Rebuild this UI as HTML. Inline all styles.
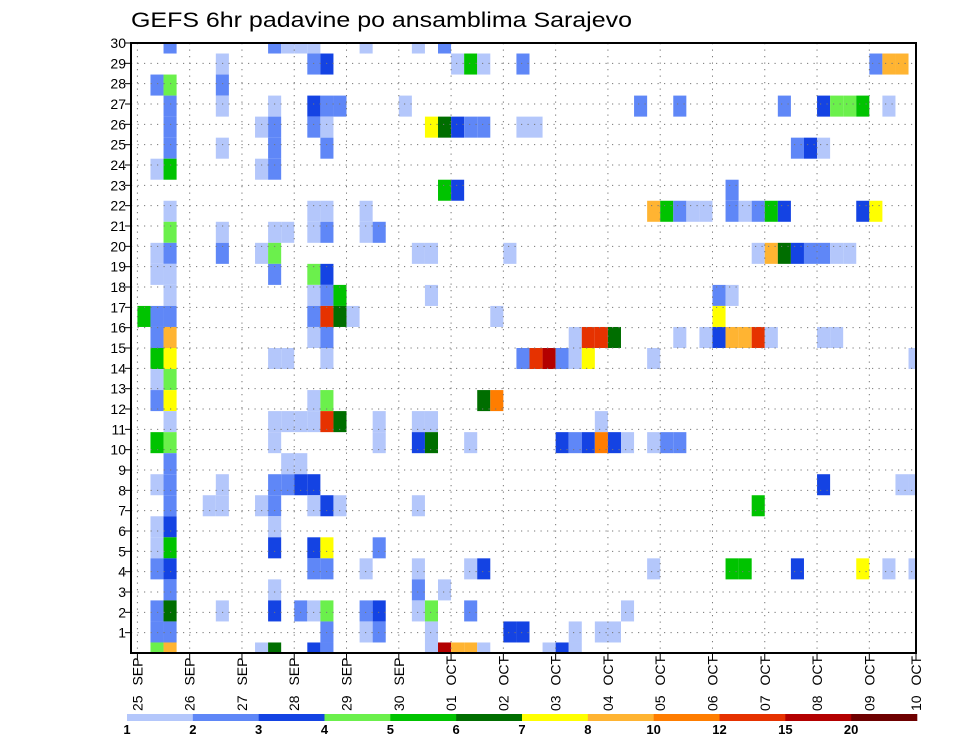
<!DOCTYPE html>
<html>
<head>
<meta charset="utf-8">
<style>
  html,body{margin:0;padding:0;background:#fff;}
  svg{display:block;}
  text{font-family:"Liberation Sans","DejaVu Sans",sans-serif;fill:#000;}
</style>
</head>
<body>
<svg id="chart" width="960" height="742" viewBox="0 0 960 742" xmlns="http://www.w3.org/2000/svg">
  <text x="131" y="27" font-size="21" textLength="501" lengthAdjust="spacingAndGlyphs">GEFS 6hr padavine po ansamblima Sarajevo</text>
  <g id="cells"></g>
  <g id="grid"></g>
  <rect x="131" y="43" width="785" height="610" fill="none" stroke="#000" stroke-width="2"/>
  <g id="yaxis"></g>
  <g id="xaxis"></g>
  <g id="colorbar"></g>
</svg>
<script>
// ---- data ----
const dayLabels = ["25 SEP","26 SEP","27 SEP","28 SEP","29 SEP","30 SEP","01 OCT","02 OCT","03 OCT","04 OCT","05 OCT","06 OCT","07 OCT","08 OCT","09 OCT","10 OCT"];
const memberLabels = [1,2,3,4,5,6,7,8,9,10,11,12,13,14,15,16,17,18,19,20,21,22,23,24,25,26,27,28,29,30];
const levelBreaks = [1,2,3,4,5,6,7,8,10,12,15,20];
const levelColors = ["#b4c7fb","#5f87f7","#1443e3","#6bf04c","#00c300","#006e00","#ffff00","#ffb432","#ff7d00","#e63200","#b30000","#6e0000"];
// cells: ensemble band, 6-hour step, precip (mm)
const cellMember = [
29,29,29,29,29,29,29,29,
28,28,28,28,28,28,28,28,28,28,
27,27,27,
26,26,26,26,26,26,26,26,26,26,26,26,26,26,26,
25,25,25,25,25,25,25,25,25,25,25,25,
24,24,24,24,24,24,24,
23,23,23,23,
22,22,22,
21,21,21,21,21,21,21,21,21,21,21,21,21,21,21,21,
20,20,20,20,20,20,20,20,
19,19,19,19,19,19,19,19,19,19,19,19,19,19,19,19,
18,18,18,18,18,
17,17,17,17,17,17,17,
16,16,16,16,16,16,16,16,16,
15,15,15,15,15,15,15,15,15,15,15,15,15,15,15,15,15,
14,14,14,14,14,14,14,14,14,14,14,14,14,
13,13,
12,12,12,12,12,12,
11,11,11,11,11,11,11,11,11,11,11,
10,10,10,10,10,10,10,10,10,10,10,10,10,10,10,10,
9,9,9,
8,8,8,8,8,8,8,8,8,8,
7,7,7,7,7,7,7,7,7,7,
6,6,6,
5,5,5,5,5,5,
4,4,4,4,4,4,4,4,4,4,4,4,4,4,4,
3,3,3,3,
2,2,2,2,2,2,2,2,2,2,2,2,2,
1,1,1,1,1,1,1,1,1,1,1,
0,0,0,0,0,0,0,0,0,0,0,0,0,0
];
const cellStep = [
2,10,11,12,13,17,21,23,
6,13,14,24,25,26,29,56,57,58,
1,2,6,
2,6,10,13,14,15,20,38,41,49,52,53,54,55,57,
2,9,10,13,14,22,23,24,25,26,29,30,
2,6,10,14,50,51,52,
1,2,9,10,
23,24,45,
2,13,14,17,39,40,41,42,43,45,46,47,48,49,55,56,
2,6,10,11,13,14,17,18,
1,2,6,9,10,21,22,28,47,48,49,50,51,52,53,54,
1,2,10,13,14,
2,13,14,15,22,44,45,
0,1,2,13,14,15,16,27,44,
1,2,13,14,33,34,35,36,41,43,44,45,46,47,48,52,53,
1,2,10,11,14,29,30,31,32,33,34,39,59,
1,2,
1,2,13,14,26,27,
2,10,11,12,13,14,15,18,21,22,35,
1,2,10,18,21,22,25,32,33,34,35,36,37,39,40,41,
2,11,12,
1,2,6,10,11,12,13,52,58,59,
2,5,6,9,10,13,14,15,21,47,
1,2,10,
1,2,10,13,14,18,
1,2,13,14,17,21,25,26,39,45,46,50,55,57,59,
2,10,21,23,
1,2,6,10,12,13,14,17,18,21,22,25,37,
1,2,14,17,18,22,28,29,33,35,36,
1,2,9,10,13,14,22,23,24,25,26,31,32,33
];
const cellValue = [
2.5,2.5,1.5,1.5,1.5,1.5,1.5,2.5,
1.5,2.5,3.5,1.5,5.5,1.5,2.5,2.5,9,9,
2.5,4.5,2.5,
2.5,1.5,1.5,3.5,2.5,2.5,1.5,2.5,2.5,2.5,3.5,4.5,4.5,5.5,1.5,
2.5,1.5,2.5,2.5,1.5,7.5,6.5,3.5,2.5,2.5,1.5,1.5,
2.5,1.5,2.5,2.5,2.5,3.5,1.5,
1.5,5.5,1.5,2.5,
5.5,3.5,2.5,
1.5,1.5,1.5,1.5,9,5.5,2.5,1.5,1.5,2.5,1.5,2.5,5.5,3.5,3.5,7.5,
4.5,1.5,1.5,1.5,1.5,2.5,1.5,2.5,
1.5,2.5,2.5,1.5,4.5,1.5,1.5,1.5,1.5,9,6.5,3.5,2.5,2.5,1.5,1.5,
1.5,1.5,2.5,4.5,3.5,
1.5,1.5,2.5,5.5,1.5,2.5,1.5,
5.5,2.5,2.5,2.5,13.5,6.5,1.5,1.5,7.5,
2.5,9,1.5,2.5,1.5,13.5,13.5,6.5,1.5,1.5,3.5,9,9,13.5,1.5,1.5,1.5,
5.5,7.5,1.5,1.5,1.5,2.5,13.5,17,2.5,1.5,7.5,1.5,1.5,
1.5,4.5,
2.5,7.5,1.5,4.5,6.5,11,
1.5,1.5,1.5,1.5,1.5,13.5,6.5,1.5,1.5,1.5,1.5,
5.5,4.5,1.5,1.5,3.5,6.5,1.5,3.5,2.5,3.5,11,3.5,1.5,1.5,2.5,2.5,
2.5,1.5,1.5,
1.5,2.5,1.5,2.5,2.5,3.5,3.5,3.5,1.5,1.5,
2.5,1.5,1.5,1.5,2.5,1.5,3.5,1.5,1.5,5.5,
1.5,3.5,1.5,
1.5,5.5,3.5,3.5,7.5,2.5,
2.5,3.5,2.5,2.5,1.5,1.5,1.5,3.5,1.5,5.5,5.5,3.5,7.5,1.5,1.5,
2.5,1.5,2.5,1.5,
2.5,6.5,1.5,3.5,2.5,1.5,4.5,2.5,3.5,1.5,4.5,2.5,1.5,
2.5,2.5,2.5,1.5,2.5,1.5,3.5,3.5,1.5,1.5,1.5,
4.5,9,1.5,6.5,3.5,2.5,1.5,17,9,9,1.5,1.5,3.5,1.5
];

// ---- geometry ----
const NS = "http://www.w3.org/2000/svg";
const plotL = 131, plotR = 916, plotT = 43, plotB = 653;
const x0 = 137.4, stepW = 13.07;          // 6-hour step width
const bandCount = 29, bandH = (plotB - plotT) / bandCount;
function xStep(s){ return x0 + s * stepW; }
function xDay(d){ return x0 + d * stepW * 4; }
function yBand(b){ return plotB - b * bandH; }           // band center
function yMember(k){ return plotB - k * (plotB - plotT) / 30; } // axis label
function colorFor(v){
  let idx = 0;
  for (let i = 0; i < levelBreaks.length; i++) if (v >= levelBreaks[i]) idx = i;
  return levelColors[idx];
}
function mk(tag, attrs, parent){
  const el = document.createElementNS(NS, tag);
  for (const k in attrs) el.setAttribute(k, attrs[k]);
  parent.appendChild(el);
  return el;
}

// ---- cells ----
const cellsG = document.getElementById("cells");
for (let i = 0; i < cellValue.length; i++) {
  const xl = Math.max(plotL, xStep(cellStep[i]));
  const xr = Math.min(plotR, xStep(cellStep[i] + 1));
  const yc = yBand(cellMember[i]);
  const yt = Math.max(plotT, yc - bandH / 2);
  const yb = Math.min(plotB, yc + bandH / 2);
  if (xr <= xl || yb <= yt) continue;
  const r = mk("rect", {x: xl.toFixed(2), y: yt.toFixed(2), width: (xr - xl).toFixed(2), height: (yb - yt).toFixed(2), fill: colorFor(cellValue[i])}, cellsG);
  
  
}

// ---- grid ----
const gridG = document.getElementById("grid");
for (let k = 1; k < 30; k++) {
  const y = yMember(k);
  const l = mk("line", {x1: plotL, x2: plotR, y1: y, y2: y, stroke: "#777", "stroke-width": 1, "stroke-dasharray": "1.2 5.3"}, gridG);
  
  
}
for (let d = 0; d < dayLabels.length; d++) {
  const x = xDay(d);
  if (x >= plotR - 1) continue;
  const l = mk("line", {x1: x, x2: x, y1: plotT, y2: plotB, stroke: "#777", "stroke-width": 1, "stroke-dasharray": "1.2 5.3"}, gridG);
  
  
}

// ---- y axis ----
const yG = document.getElementById("yaxis");
for (let i = 0; i < memberLabels.length; i++) {
  const y = yMember(memberLabels[i]);
  const t = mk("line", {x1: plotL - 6, x2: plotL, y1: y, y2: y, stroke: "#000", "stroke-width": 1}, yG);
  
  
  const tx = mk("text", {x: plotL - 5, y: y + 5, "font-size": 14, "text-anchor": "end"}, yG);
  tx.textContent = memberLabels[i];
  
  
}

// ---- x axis ----
const xG = document.getElementById("xaxis");
for (let d = 0; d < dayLabels.length; d++) {
  const x = Math.min(xDay(d), plotR);
  const t = mk("line", {x1: x, x2: x, y1: plotB, y2: plotB + 7, stroke: "#000", "stroke-width": 1}, xG);
  
  
  const tx = mk("text", {x: 0, y: 0, "font-size": 14, "word-spacing": 6, transform: "translate(" + (x + 5) + ",711) rotate(-90)"}, xG);
  tx.textContent = dayLabels[d];
  
  
}

// ---- colorbar ----
const cbG = document.getElementById("colorbar");
const cbL = 127, cbR = 917, segW = (cbR - cbL) / levelColors.length;
for (let i = 0; i < levelColors.length; i++) {
  const r = mk("rect", {x: cbL + i * segW, y: 714, width: segW + 0.3, height: 7, fill: levelColors[i]}, cbG);
  
  
  const tx = mk("text", {x: cbL + i * segW, y: 734, "font-size": 13, "font-weight": "bold", "text-anchor": "middle"}, cbG);
  tx.textContent = levelBreaks[i];
  
  
}
</script>
</body>
</html>
